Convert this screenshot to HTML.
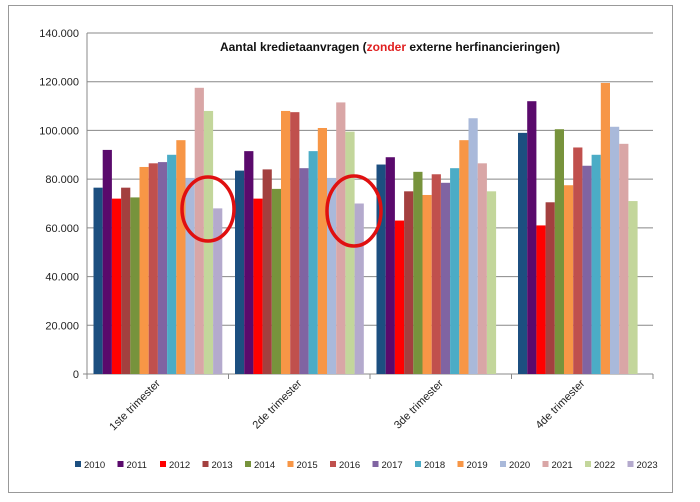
<!DOCTYPE html>
<html><head><style>body{margin:0;background:#fff;}svg{display:block;font-family:"Liberation Sans",sans-serif;}</style></head><body>
<svg width="700" height="502" viewBox="0 0 700 502">
<rect x="8.5" y="5.5" width="664" height="487" fill="#fff" stroke="#999" stroke-width="1"/>
<g id="g"></g>
<text x="390" y="51" text-anchor="middle" font-size="12" font-weight="bold" fill="#111">Aantal kredietaanvragen (<tspan fill="#e02020">zonder</tspan> externe herfinancieringen)</text>
</svg>
<script>
var g=document.getElementById('g'),ns='http://www.w3.org/2000/svg',h='';
var x0=87,x1=653,y0=374,sc=341/140000;
for(var i=0;i<=7;i++){var y=y0-i*20000*sc;h+='<line x1="'+(i?x0:x0-4)+'" x2="'+x1+'" y1="'+y+'" y2="'+y+'" stroke="'+(i?'#888':'#888')+'" stroke-width="1"/>';
h+='<text x="79" y="'+(y+4)+'" text-anchor="end" font-size="11" fill="#222">'+(i?(i*20)+'.000':'0')+'</text>';}
h+='<line x1="'+x0+'" x2="'+x0+'" y1="33" y2="'+y0+'" stroke="#888"/>';
var cols=['#1c4f80','#5a0a6c','#ff0000','#a3403f','#77933c','#f79646','#c0504d','#8064a2','#4bacc6','#f79646','#a9b9da','#d9a6a6','#c3d69b','#b4aacd'];
var data=[[76.5,92,72,76.5,72.5,85,86.5,87,90,96,80.5,117.5,108,68],[83.5,91.5,72,84,76,108,107.5,84.5,91.5,101,80.5,111.5,99.5,70],[86,89,63,75,83,73.5,82,78.5,84.5,96,105,86.5,75],[99,112,61,70.5,100.5,77.5,93,85.5,90,119.5,101.5,94.5,71]];
var labs=['1ste trimester','2de trimester','3de trimester','4de trimester'];
var cw=(x1-x0)/4,bw=9.2;
for(var c=0;c<4;c++){var sx=x0+c*cw+6.5;
for(var j=0;j<data[c].length;j++){var v=data[c][j]*1000*sc;h+='<rect x="'+(sx+j*bw)+'" y="'+(y0-v)+'" width="'+bw+'" height="'+v+'" fill="'+cols[j]+'"/>';}
h+='<line x1="'+(x0+(c+1)*cw)+'" x2="'+(x0+(c+1)*cw)+'" y1="'+y0+'" y2="'+(y0+5)+'" stroke="#888"/>';
var lx=x0+c*cw+cw/2+3,ly=y0+10;h+='<text transform="translate('+lx+','+ly+') rotate(-45)" text-anchor="end" font-size="11" fill="#222">'+labs[c]+'</text>';}
h+='<line x1="'+x0+'" x2="'+x0+'" y1="'+y0+'" y2="'+(y0+5)+'" stroke="#888"/>';
h+='<ellipse cx="208" cy="209" rx="26" ry="32" fill="none" stroke="#e01010" stroke-width="3.5"/>';
h+='<ellipse cx="354" cy="211" rx="27" ry="35" fill="none" stroke="#e01010" stroke-width="3.5"/>';
for(var k=0;k<14;k++){var lx2=75+k*42.5;h+='<rect x="'+lx2+'" y="461" width="6" height="6" fill="'+cols[k]+'"/><text x="'+(lx2+9)+'" y="468" font-size="9.5" fill="#222">'+(2010+k)+'</text>';}
g.innerHTML=h;
</script>
</body></html>
